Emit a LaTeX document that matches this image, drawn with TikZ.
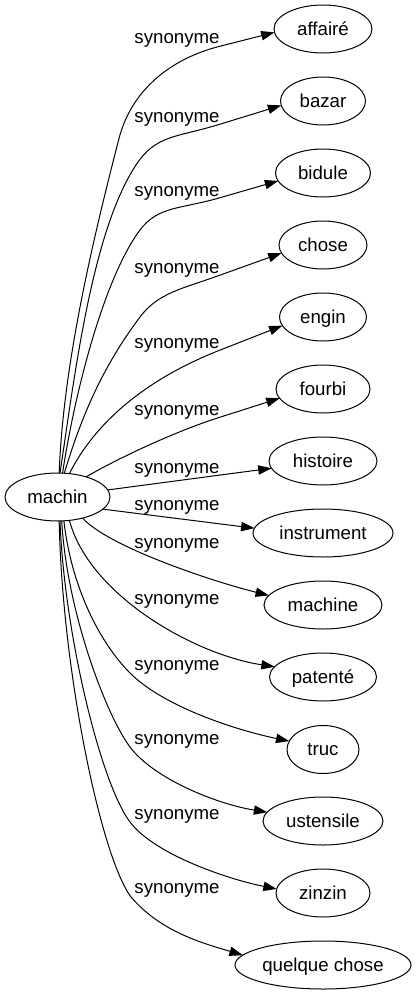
\documentclass[tikz,border=0pt]{standalone}
\usepackage{fontspec}
\setmainfont{Liberation Sans}
\usetikzlibrary{shapes.geometric,arrows.meta}
\begin{document}
\begin{tikzpicture}[x=0.75pt,y=-0.75pt,
  every node/.style={font=\fontsize{14pt}{16pt}\selectfont},
  word/.style={ellipse,draw,line width=0.75pt,inner sep=0pt,outer sep=0pt,minimum height=36pt,text height=9.4pt,text depth=0pt},
  rel/.style={anchor=base,inner sep=0pt},
  edge/.style={draw,line width=0.75pt,-{Triangle[length=10pt,width=7pt]}}]
\useasboundingbox (0,0) rectangle (417,995);
% nodes
\node[word,minimum width=78.75pt] (machin) at (57.5,497) {machin};
\node[word,minimum width=73.5pt] (affaire) at (323,29) {affairé};
\node[word,minimum width=63.75pt] (bazar) at (323,101) {bazar};
\node[word,minimum width=71.25pt] (bidule) at (323,173) {bidule};
\node[word,minimum width=66pt] (chose) at (323,245) {chose};
\node[word,minimum width=65.25pt] (engin) at (323,317) {engin};
\node[word,minimum width=70.5pt] (fourbi) at (323,389) {fourbi};
\node[word,minimum width=81pt] (histoire) at (323,461) {histoire};
\node[word,minimum width=105pt] (instrument) at (323,533) {instrument};
\node[word,minimum width=88.5pt] (machine) at (323,605) {machine};
\node[word,minimum width=80.25pt] (patente) at (323,677) {patenté};
\node[word,minimum width=54pt] (truc) at (323,749.5) {truc};
\node[word,minimum width=90pt] (ustensile) at (323,821) {ustensile};
\node[word,minimum width=70.5pt] (zinzin) at (323,893) {zinzin};
\node[word,minimum width=132pt] (qc) at (323,965) {quelque chose};
% labels
\node[rel] (l1) at (177,44) {synonyme};
\node[rel] (l2) at (177,122.5) {synonyme};
\node[rel] (l3) at (177,196) {synonyme};
\node[rel] (l4) at (177,273.5) {synonyme};
\node[rel] (l5) at (177,348.5) {synonyme};
\node[rel] (l6) at (177,415.5) {synonyme};
\node[rel] (l7) at (177,473) {synonyme};
\node[rel] (l8) at (177,510.5) {synonyme};
\node[rel] (l9) at (177,548) {synonyme};
\node[rel] (l10) at (177,604) {synonyme};
\node[rel] (l11) at (177,670.5) {synonyme};
\node[rel] (l12) at (177,744) {synonyme};
\node[rel] (l13) at (177,819) {synonyme};
\node[rel] (l14) at (177,893) {synonyme};
% via points
\coordinate (k1) at (119,138.5); \coordinate (m1) at (219,46.5);
\coordinate (k2) at (136,165);   \coordinate (m2) at (219,124.5);
\coordinate (k3) at (140,230);   \coordinate (m3) at (219,198);
\coordinate (k4) at (140,317);   \coordinate (m4) at (219,275.5);
\coordinate (m5) at (219,350.5);
\coordinate (m6) at (219,417.5);
\coordinate (k11) at (130,673);
\coordinate (k12) at (130,747);
\coordinate (k13) at (130,822);
\coordinate (k14) at (131,897);
% edges
\draw[edge] (machin.86) .. controls +(4,-110) and +(-25,97) .. (k1) .. controls +(12.5,-48.4) and +(-48.5,12.4) .. (m1) -- (affaire.184);
\draw[edge] (machin.84) .. controls +(15,-100) and +(-44,66.8) .. (k2) .. controls +(20,-30.4) and +(-43,13.2) .. (m2) -- (bazar.186);
\draw[edge] (machin.78) .. controls +(12,-80) and +(-36,48) .. (k3) .. controls +(18,-24) and +(-38.4,11.1) .. (m3) -- (bidule.190);
\draw[edge] (machin.74) .. controls +(18,-60) and +(-36,48) .. (k4) .. controls +(18,-24) and +(-37.6,13.5) .. (m4) -- (chose.191);
\draw[edge] (machin.63) .. controls +(25,-50) and +(-74.5,29.3) .. (m5) -- (engin.192);
\draw[edge] (machin.35) .. controls +(25,-15) and +(-47.7,15.2) .. (m6) -- (fourbi.192);
\draw[edge] (machin.8) -- (histoire.188);
\draw[edge] (machin.-15) -- (instrument.176);
\draw[edge] (machin.-40) .. controls +(25,28) and +(-60,-15) .. (machine.170);
\draw[edge] (machin.-63) .. controls +(20,75) and +(-80,-12) .. (patente.168);
\draw[edge] (machin.-75) .. controls +(8,70) and +(-28,-28) .. (k11) .. controls +(35,35) and +(-49,-10) .. (truc.166);
\draw[edge] (machin.-80) .. controls +(5,90) and +(-24,-32) .. (k12) .. controls +(24,32) and +(-50,-8) .. (ustensile.171);
\draw[edge] (machin.-84) .. controls +(4,110) and +(-30,-40) .. (k13) .. controls +(24,32) and +(-50,-10) .. (zinzin.175);
\draw[edge] (machin.-86) .. controls +(3,150) and +(-30,-40) .. (k14) .. controls +(30,35) and +(-40,-12) .. (qc.173);
\end{tikzpicture}
\end{document}
